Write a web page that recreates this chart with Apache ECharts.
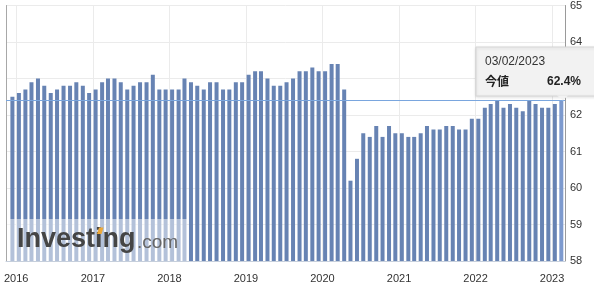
<!DOCTYPE html>
<html><head><meta charset="utf-8">
<script src="https://cdn.jsdelivr.net/npm/echarts@6/dist/echarts.min.js"></script>
<style>html,body{margin:0;padding:0;background:#fff;overflow:hidden}#c{width:594px;height:292px}</style>
</head><body><div id="c"></div>
<script>
// first bar month (release month), one bar per month
const firstYear = 2015, firstMonth = 12;
// monthly values (%), Dec 2015 .. Feb 2023
const values = [
  62.5, 62.6, 62.7, 62.9, 63.0, 62.8, 62.6, 62.7, 62.8, 62.8, 62.9, 62.8, 62.6,
  62.7, 62.9, 63.0, 63.0, 62.9, 62.7, 62.8, 62.9, 62.9, 63.1, 62.7, 62.7,
  62.7, 62.7, 63.0, 62.9, 62.8, 62.7, 62.9, 62.9, 62.7, 62.7, 62.9, 62.9,
  63.1, 63.2, 63.2, 63.0, 62.8, 62.8, 62.9, 63.0, 63.2, 63.2, 63.3, 63.2,
  63.2, 63.4, 63.4, 62.7, 60.2, 60.8, 61.5, 61.4, 61.7, 61.4, 61.7, 61.5,
  61.5, 61.4, 61.4, 61.5, 61.7, 61.6, 61.6, 61.7, 61.7, 61.6, 61.6, 61.9,
  61.9, 62.2, 62.3, 62.4, 62.2, 62.3, 62.2, 62.1, 62.4, 62.3, 62.2, 62.2,
  62.3, 62.4
];
const yMin = 58, yMax = 65, yStep = 1;
const latestDateText = '03/02/2023';
const latestLabel = '今値';
const latestValue = 62.4;

const dates = values.map((v, i) => Date.UTC(firstYear, firstMonth - 1 + i, 14));
const barData = values.map((v, i) => {
  const item = { value: [dates[i], v] };
  if (i === values.length - 1) item.itemStyle = { color: '#7d9ace' };
  return item;
});

const FONT = 'Arial, "Liberation Sans", sans-serif';
const chart = echarts.init(document.getElementById('c'), null, { renderer: 'canvas' });
chart.setOption({
  animation: false,
  useUTC: true,
  grid: { left: 6, right: 29, top: 5, bottom: 31, containLabel: false },
  xAxis: {
    type: 'time',
    min: Date.UTC(2015, 10, 23),
    max: Date.UTC(2023, 1, 22),
    splitNumber: 7,
    minInterval: 365 * 86400000,
    maxInterval: 366 * 86400000,
    axisLine: { show: true, lineStyle: { color: '#c6cfdc', width: 1 } },
    axisTick: { show: false },
    splitLine: { show: true, lineStyle: { color: '#ebebeb', width: 1 } },
    axisLabel: {
      color: '#333', fontSize: 11, fontFamily: FONT, margin: 12,
      formatter: v => String(new Date(v).getUTCFullYear())
    }
  },
  yAxis: [{
    type: 'value', position: 'right', min: yMin, max: yMax, interval: yStep,
    axisLine: { show: true, lineStyle: { color: '#9a9a9a', width: 1 } },
    axisTick: { show: false },
    splitLine: { show: true, lineStyle: { color: '#ebebeb', width: 1 } },
    axisLabel: { color: '#333', fontSize: 11, fontFamily: FONT, margin: 5 }
  }, {
    type: 'value', position: 'left', min: yMin, max: yMax, interval: yStep,
    axisLine: { show: true, lineStyle: { color: '#a8a8a8', width: 1 } },
    axisTick: { show: false }, axisLabel: { show: false }, splitLine: { show: false }
  }],
  series: [{
    type: 'bar',
    data: barData,
    barWidth: 4,
    itemStyle: { color: '#6783b3' },
    markLine: {
      silent: true, symbol: ['none', 'none'],
      label: { show: false },
      lineStyle: { color: '#7aa6de', width: 1, type: 'solid' },
      data: [{ yAxis: latestValue }]
    }
  }],
  graphic: [
    { type: 'rect', z: 100, shape: { x: 7, y: 219, width: 180, height: 42 }, style: { fill: 'rgba(255,255,255,0.5)' } },
    { type: 'text', z: 101, x: 17, y: 240, style: { text: 'Investing', font: 'bold 27px ' + FONT, fill: '#454545', verticalAlign: 'middle' } },
    { type: 'text', z: 101, x: 137, y: 243, style: { text: '.com', font: '19px ' + FONT, fill: '#666', verticalAlign: 'middle' } },
    { type: 'polygon', z: 102, shape: { points: [[99, 227.5], [103.5, 227.5], [101.5, 234], [97, 234]] }, style: { fill: '#eda93a' } },
    { type: 'rect', z: 110, shape: { x: 476, y: 47, width: 130, height: 49 }, style: { fill: '#f2f2f2', stroke: '#d6d6d6', lineWidth: 1, shadowBlur: 3, shadowColor: 'rgba(0,0,0,0.12)', shadowOffsetY: 1 } },
    { type: 'polygon', z: 111, shape: { points: [[557, 95.5], [568, 95.5], [563, 100.5]] }, style: { fill: '#f2f2f2' } },
    { type: 'text', z: 112, x: 485, y: 62, style: { text: latestDateText, font: '12px ' + FONT, fill: '#333', verticalAlign: 'middle' } },
    { type: 'text', z: 112, x: 485, y: 81.5, style: { text: latestLabel, font: 'bold 12px "Noto Sans CJK JP", sans-serif', fill: '#222', verticalAlign: 'middle' } },
    { type: 'text', z: 112, x: 581, y: 81.5, style: { text: latestValue.toFixed(1) + '%', font: 'bold 12px ' + FONT, fill: '#222', align: 'right', verticalAlign: 'middle' } }
  ]
});
</script>
</body></html>
